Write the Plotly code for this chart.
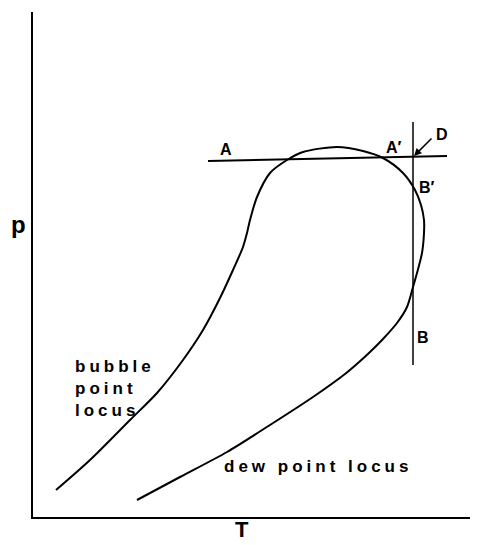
import plotly.graph_objects as go

# Phase envelope (T, p) in arbitrary units (T: 0..437, p: 0..505)
bubble_T = [23, 57, 97, 124, 150, 170, 187, 200, 210, 214, 217, 224, 237, 254, 270, 304, 330, 350, 370, 382, 388, 391, 391]
bubble_p = [27, 57, 97, 124, 157, 187, 219, 247, 270, 284, 297, 320, 344, 357, 365, 370, 366, 359, 344, 327, 312, 297, 284]
dew_T = [389, 384, 380, 374, 364, 350, 337, 325, 312, 280, 237, 194, 147, 104]
dew_p = [264, 244, 230, 210, 194, 178, 165, 154, 143, 120, 92, 65, 40, 17]

# Isobar A-A' and isotherm B-B'
isobar_T = [175, 414]
isobar_p = [356, 361]
isotherm_T = [380, 380]
isotherm_p = [152, 395]

fig = go.Figure()
fig.add_trace(go.Scatter(x=bubble_T + dew_T, y=bubble_p + dew_p, mode="lines",
                         line=dict(color="black", width=2, shape="spline", smoothing=0.8)))
fig.add_trace(go.Scatter(x=isobar_T, y=isobar_p, mode="lines", line=dict(color="black", width=2)))
fig.add_trace(go.Scatter(x=isotherm_T, y=isotherm_p, mode="lines", line=dict(color="black", width=1.5)))

font_b = dict(family="Liberation Sans, Arial", size=16, color="black")
label_font = dict(family="Liberation Sans, Arial", size=17, color="black")

ann = []
def lab(x, y, text, font=font_b, xanchor="center", align="center"):
    ann.append(dict(x=x, y=y, text=text, showarrow=False, font=font, xanchor=xanchor,
                    yanchor="middle", align=align))

lab(193, 368, "<b>A</b>")
lab(351, 370, "<b>A′</b>", xanchor="left")
lab(384, 330, "<b>B′</b>", xanchor="left")
lab(382, 180, "<b>B</b>", xanchor="left")
lab(409, 383, "<b>D</b>")
lab(40, 129, "<b>bubble<br>point<br>locus</b>", font=label_font, xanchor="left", align="left")
lab(285, 51, "<b>dew point locus</b>", font=label_font)
ann.append(dict(x=381, y=361, ax=400, ay=380, axref="x", ayref="y", xref="x", yref="y",
                showarrow=True, arrowhead=2, arrowsize=1, arrowwidth=1.5, arrowcolor="black", text=""))
ann.append(dict(x=-0.034, y=0.58, xref="paper", yref="paper", text="<b>p</b>", showarrow=False,
                xanchor="center", yanchor="middle",
                font=dict(family="Liberation Sans, Arial", size=24, color="black")))
ann.append(dict(x=0.478, y=-0.0535, xref="paper", yref="paper", text="<b>T</b>", showarrow=False,
                xanchor="center", yanchor="bottom",
                font=dict(family="Liberation Sans, Arial", size=22, color="black")))

fig.update_layout(
    width=478, height=545,
    margin=dict(l=33, r=8, t=12, b=28),
    paper_bgcolor="white", plot_bgcolor="white",
    showlegend=False,
    annotations=ann,
    xaxis=dict(range=[0, 437], showgrid=False, zeroline=False, showticklabels=False, ticks="",
               showline=True, linecolor="black", linewidth=2),
    yaxis=dict(range=[0, 505], showgrid=False, zeroline=False, showticklabels=False, ticks="",
               showline=True, linecolor="black", linewidth=2),
)

post = """
document.body.style.margin = '0';
document.querySelectorAll('.annotation-text').forEach(function (t) {
  if (t.textContent.indexOf('locus') >= 0) { t.style.letterSpacing = '4px'; }
});
"""
fig.write_html("out.html", post_script=post, config={"displayModeBar": False})
